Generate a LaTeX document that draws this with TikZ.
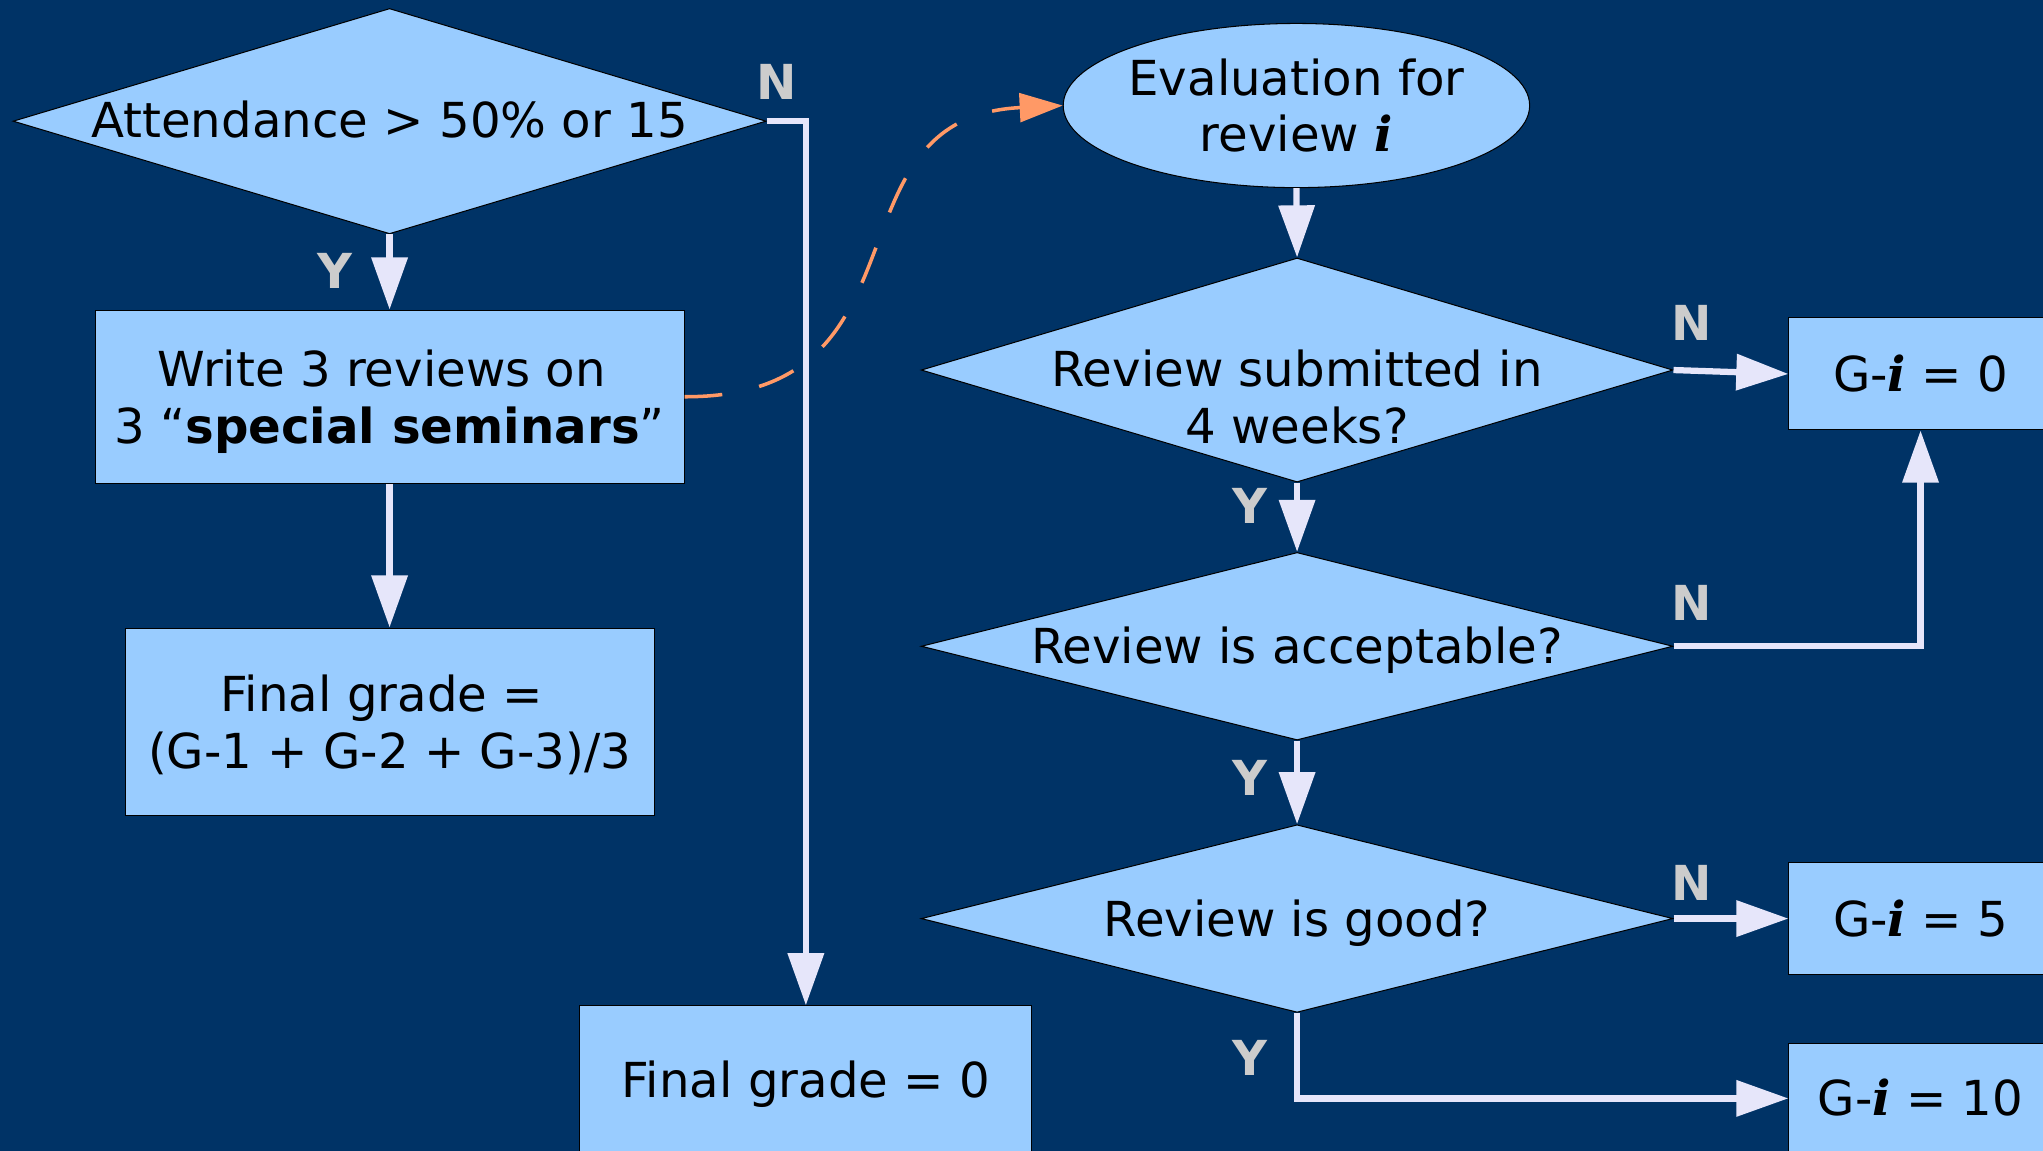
\documentclass[tikz,border=0pt]{standalone}
\usepackage{fontspec}
\setmainfont{DejaVu Sans}
\newfontfamily\serifi{DejaVu Serif}
\usetikzlibrary{shapes.geometric,arrows.meta}
\definecolor{bgblue}{RGB}{0,51,102}
\definecolor{boxfill}{RGB}{153,204,255}
\definecolor{flowcol}{RGB}{230,230,250}
\definecolor{orangeline}{RGB}{255,153,102}
\definecolor{labgray}{RGB}{204,204,204}
\newcommand{\ivar}{{\serifi\bfseries\itshape i}}
\tikzset{
  shapebox/.style={draw=black, line width=0.8pt, fill=boxfill, inner sep=0pt},
  rbox/.style={shapebox, rectangle},
  dmd/.style={shapebox, diamond},
  ell/.style={shapebox, ellipse},
  ln/.style={font=\fontsize{37}{43.5}\selectfont, text=black, inner sep=0pt, anchor=base},
  flowarrow/.style={draw=flowcol, line width=4.8pt, -{Triangle[length=40pt,width=27pt]}},
  dasharrow/.style={draw=orangeline, line width=2.7pt, dash pattern=on 29pt off 29pt, -{Triangle[length=33pt,width=22pt,fill=orangeline]}},
  yn/.style={text=labgray, font=\fontsize{37}{43}\selectfont\bfseries, inner sep=0pt}
}
\begin{document}
\begin{tikzpicture}[x=1pt,y=-1pt]
\fill[bgblue] (0,0) rectangle (1568,883);
\useasboundingbox (0,0) rectangle (1568,883);
\clip (0,0) rectangle (1568,883);

% left column
\node[dmd, minimum width=578pt, minimum height=173pt] (d1) at (299,93) {};
\node[ln] (d1t) at (299,105.5) {Attendance > 50\% or 15};
\node[rbox, minimum width=452pt, minimum height=133pt] (w) at (299,304.5) {};
\node[ln] (wt1) at (293,296.5) {Write 3 reviews on};
\node[ln] (wt2) at (299,340) {3 “\textbf{special seminars}”};
\node[rbox, minimum width=406pt, minimum height=144pt] (fg) at (299,554) {};
\node[ln] (fgt1) at (293,546) {Final grade =};
\node[ln] (fgt2) at (299,589.5) {(G-1 + G-2 + G-3)/3};
\node[rbox, minimum width=347pt, minimum height=114pt] (fg0) at (618.5,829) {};
\node[ln] (fg0t) at (618.5,842.5) {Final grade = 0};

% right column
\node[ell, minimum width=358pt, minimum height=126pt] (ev) at (995,81) {};
\node[ln] (evt1) at (995,73) {Evaluation for};
\node[ln] (evt2) at (995,116.5) {review \ivar};
\node[dmd, minimum width=577pt, minimum height=172pt] (d2) at (995.5,284) {};
\node[ln] (d2t1) at (995.5,297) {Review submitted in};
\node[ln] (d2t2) at (995.5,340.5) {4 weeks?};
\node[dmd, minimum width=577pt, minimum height=144pt] (d3) at (995.5,496) {};
\node[ln] (d3t) at (995.5,509.5) {Review is acceptable?};
\node[dmd, minimum width=577pt, minimum height=144pt] (d4) at (995.5,705) {};
\node[ln] (d4t) at (995.5,718.5) {Review is good?};

\node[rbox, minimum width=202pt, minimum height=86pt] (g0) at (1474,287) {};
\node[ln] (g0t) at (1474,300.5) {G-\ivar{} = 0};
\node[rbox, minimum width=202pt, minimum height=86pt] (g5) at (1474,705) {};
\node[ln] (g5t) at (1474,718.5) {G-\ivar{} = 5};
\node[rbox, minimum width=202pt, minimum height=84pt] (g10) at (1474,843) {};
\node[ln] (g10t) at (1474,856.5) {G-\ivar{} = 10};

% connectors
\draw[flowarrow] (d1.south) -- (w.north);
\draw[flowarrow] (w.south) -- (fg.north);
\draw[flowarrow] (d1.east) -| (fg0.north);
\draw[flowarrow] (ev.south) -- (d2.north);
\draw[flowarrow] (d2.south) -- (d3.north);
\draw[flowarrow] (d3.south) -- (d4.north);
\draw[flowarrow] (d2.east) -- (g0.west);
\draw[flowarrow] (d3.east) -| (g0.south);
\draw[flowarrow] (d4.east) -- (g5.west);
\draw[flowarrow] (d4.south) |- (g10.west);
\draw[dasharrow] (w.east) .. controls +(195,0.5) and +(-186,9) .. (ev.west);

% labels
\node[yn] (l1) at (596,63) {N};
\node[yn] (l2) at (257,208) {Y};
\node[yn] (l3) at (1298,248) {N};
\node[yn] (l4) at (959,388) {Y};
\node[yn] (l5) at (1298,463) {N};
\node[yn] (l6) at (959,597) {Y};
\node[yn] (l7) at (1298,678) {N};
\node[yn] (l8) at (959,812) {Y};
\end{tikzpicture}
\end{document}
